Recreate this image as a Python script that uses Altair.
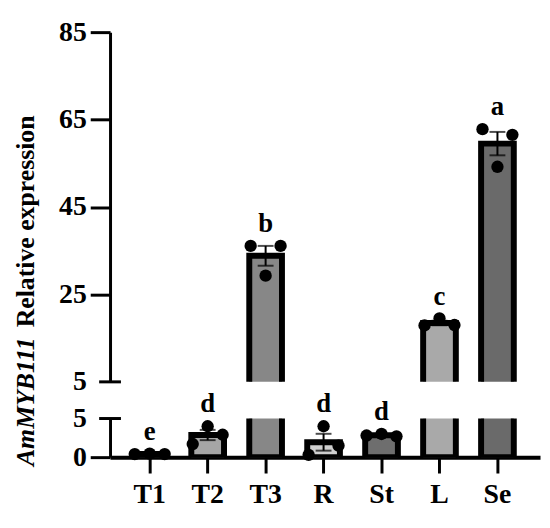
import altair as alt
import pandas as pd

FONT = "Liberation Serif"

groups = ["T1", "T2", "T3", "R", "St", "L", "Se"]
rep_left = [0.40, 1.7, 36.1, 0.3, 2.8, 17.9, 62.8]
rep_mid = [0.45, 4.0, 29.3, 4.0, 3.0, 19.5, 54.2]
rep_right = [0.40, 2.9, 36.1, 1.5, 2.7, 18.0, 61.5]
letters = ["e", "d", "b", "d", "d", "c", "a"]
fills = ["#b4b4b4", "#a6a6a6", "#878787", "#cfcfcf", "#6e6e6e", "#a9a9a9", "#6a6a6a"]
upper_ticks = [5, 25, 45, 65, 85]
lower_ticks = [0, 5]
upper_groups = ["T3", "L", "Se"]
lower_groups = ["T1", "T2", "R", "St"]
reps = ["1", "2", "3"]

rows = []
for i, g in enumerate(groups):
    for rep, vals in zip(reps, (rep_left, rep_mid, rep_right)):
        rows.append({"group": g, "rep": rep, "value": vals[i], "letter": letters[i]})
df = pd.DataFrame(rows)
cap_df = pd.DataFrame({"tick": [5]})

xscale = alt.Scale(domain=groups, paddingInner=0, paddingOuter=0.2094, align=0.44)
color_enc = alt.Color("group:N", scale=alt.Scale(domain=groups, range=fills), legend=None)
tick_color = {"condition": {"test": "datum.value == 5", "value": "transparent"}, "value": "black"}


def panel(domain, ticks, height, show_x, groups_in, extra=None):
    yscale = alt.Scale(domain=domain, nice=False, zero=False)
    yaxis = alt.Axis(values=ticks, title=None, grid=False, domainWidth=3, domainColor="black",
                     tickWidth=3, tickSize=20, tickColor=tick_color, labelFont=FONT,
                     labelFontSize=28, labelFontWeight="bold", labelColor="black", labelPadding=4)
    if show_x:
        xaxis = alt.Axis(title=None, labelAngle=0, grid=False, domainWidth=4, domainColor="black",
                         tickWidth=3, tickSize=16, tickColor="black", labelFont=FONT,
                         labelFontSize=28, labelFontWeight="bold", labelColor="black", labelPadding=8)
    else:
        xaxis = None
    x = alt.X("group:N", scale=xscale, axis=xaxis, sort=groups)
    base = alt.Chart(df)
    sub = base.transform_filter(alt.FieldOneOfPredicate(field="group", oneOf=groups_in))
    bars = base.mark_bar(size=33, stroke="black", strokeWidth=6, clip=True).encode(
        x=x, y=alt.Y("mean(value):Q", scale=yscale, axis=yaxis), y2=alt.datum(0), color=color_enc)
    err = sub.mark_errorbar(extent="stderr", color="black",
                            ticks={"size": 16, "thickness": 2, "color": "black"},
                            rule={"strokeWidth": 2, "color": "black"}).encode(
        x=x, y=alt.Y("value:Q", scale=yscale, axis=yaxis))
    pts = sub.mark_circle(size=155, color="black", opacity=1).encode(
        x=x,
        xOffset=alt.XOffset("rep:N", scale=alt.Scale(domain=reps, paddingInner=0, paddingOuter=0.9375)),
        y=alt.Y("value:Q", scale=yscale, axis=yaxis))
    txt = sub.mark_text(dy=-22, font=FONT, fontSize=27, fontWeight="bold", color="black").encode(
        x=x, y=alt.Y("max(value):Q", scale=yscale, axis=yaxis), text="letter:N")
    cap = alt.Chart(cap_df).mark_rule(strokeWidth=3, color="black").encode(
        x=alt.value(-11), x2=alt.value(11), y=alt.Y("tick:Q", scale=yscale, axis=yaxis))
    layers = [bars, err, pts, txt, cap]
    if extra:
        layers += extra
    return alt.layer(*layers).properties(width=434, height=height)


title_gene = alt.Chart(pd.DataFrame({"t": ["AmMYB111"]})).mark_text(
    angle=270, align="left", baseline="alphabetic", font=FONT, fontSize=26,
    fontWeight="bold", fontStyle="italic", color="black").encode(
    x=alt.value(-77), y=alt.value(48), text="t:N")
title_rest = alt.Chart(pd.DataFrame({"t": ["Relative expression"]})).mark_text(
    angle=270, align="left", baseline="alphabetic", font=FONT, fontSize=26,
    fontWeight="bold", color="black").encode(
    x=alt.value(-77), y=alt.value(-92), text="t:N")

upper = panel([5, 85], upper_ticks, 353, False, upper_groups)
lower = panel([0, 5], lower_ticks, 39, True, lower_groups, extra=[title_gene, title_rest])

chart = alt.vconcat(upper, lower, spacing=37, bounds="flush").resolve_scale(
    y="independent").properties(
    padding={"left": 4, "top": 8, "right": 2, "bottom": 2}).configure_view(strokeWidth=0)

chart.save("out.html", embed_options={"renderer": "svg", "actions": False})
